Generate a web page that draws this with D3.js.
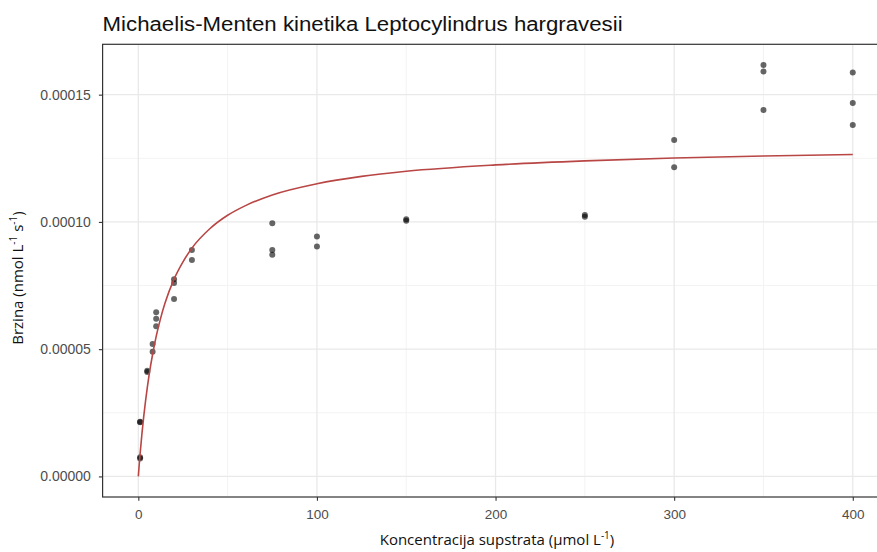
<!DOCTYPE html>
<html>
<head>
<meta charset="utf-8">
<script src="https://cdn.jsdelivr.net/npm/d3@7"></script>
<style>
  html, body { margin: 0; padding: 0; background: #fff; }
  svg { display: block; }
</style>
</head>
<body>
<svg id="chart" width="877" height="552"></svg>
<script>
// ---- data ----
const titleText = "Michaelis-Menten kinetika Leptocylindrus hargravesii";
const substrate = [1, 1, 1, 1, 5, 5, 8, 8, 10, 10, 10, 20, 20, 20, 30, 30,
                   75, 75, 75, 100, 100, 150, 150, 250, 250, 300, 300,
                   350, 350, 350, 400, 400, 400];
const rate = [0.0000215, 0.0000213, 0.0000075, 0.000007, 0.0000415, 0.000041,
              0.000052, 0.000049, 0.0000645, 0.000062, 0.000059,
              0.0000775, 0.000076, 0.0000697, 0.000089, 0.000085,
              0.0000995, 0.000089, 0.0000871, 0.0000943, 0.0000903,
              0.000101, 0.0001005, 0.0001027, 0.000102, 0.0001322, 0.0001215,
              0.0001617, 0.0001591, 0.000144, 0.0001587, 0.0001467, 0.0001381];
// fitted curve
const curveS = [0, 0.5, 1, 2, 3, 4, 5, 6, 8, 10, 12.5, 15, 20, 25, 30, 40, 50, 60,
                75, 100, 125, 150, 200, 250, 300, 350, 400];
const curveV = [0, 0.00000458, 0.00000884, 0.0000166, 0.0000234, 0.0000294,
                0.0000348, 0.0000397, 0.000048, 0.000055, 0.0000622, 0.0000682,
                0.0000775, 0.0000843, 0.0000897, 0.0000973, 0.0001026, 0.0001064,
                0.0001106, 0.000115, 0.0001179, 0.0001199, 0.0001224, 0.000124,
                0.0001251, 0.0001259, 0.0001265];
const xTicks = [0, 100, 200, 300, 400];
const xMinor = [50, 150, 250, 350];
const yTicks = [0, 0.00005, 0.0001, 0.00015];
const yMinor = [0.000025, 0.000075, 0.000125];
const yTickLabels = ["0.00000", "0.00005", "0.00010", "0.00015"];

// ---- layout ----
const panel = { left: 102.6, right: 888.5, top: 44.3, bottom: 497 };
const svg = d3.select("#chart");

const x = d3.scaleLinear().domain([-20, 420]).range([panel.left, panel.right]);
const yMax = d3.max(rate);
const yPad = yMax * 0.05;
const y = d3.scaleLinear().domain([0 - yPad, yMax + yPad]).range([panel.bottom, panel.top]);

// clip
svg.append("defs").append("clipPath").attr("id", "clip")
  .append("rect").attr("x", panel.left).attr("y", panel.top)
  .attr("width", panel.right - panel.left).attr("height", panel.bottom - panel.top);

const g = svg.append("g").attr("clip-path", "url(#clip)");
g.append("rect").attr("x", panel.left).attr("y", panel.top)
  .attr("width", panel.right - panel.left).attr("height", panel.bottom - panel.top)
  .attr("fill", "#fff");

// grid
g.selectAll(".gxm").data(xMinor).enter().append("line")
  .attr("x1", d => x(d)).attr("x2", d => x(d)).attr("y1", panel.top).attr("y2", panel.bottom)
  .attr("stroke", "#f3f3f3").attr("stroke-width", 1);
g.selectAll(".gym").data(yMinor).enter().append("line")
  .attr("y1", d => y(d)).attr("y2", d => y(d)).attr("x1", panel.left).attr("x2", panel.right)
  .attr("stroke", "#f3f3f3").attr("stroke-width", 1);
g.selectAll(".gx").data(xTicks).enter().append("line")
  .attr("x1", d => x(d)).attr("x2", d => x(d)).attr("y1", panel.top).attr("y2", panel.bottom)
  .attr("stroke", "#e9e9e9").attr("stroke-width", 1.3);
g.selectAll(".gy").data(yTicks).enter().append("line")
  .attr("y1", d => y(d)).attr("y2", d => y(d)).attr("x1", panel.left).attr("x2", panel.right)
  .attr("stroke", "#e9e9e9").attr("stroke-width", 1.3);

// points
g.selectAll(".pt").data(substrate.map((s, i) => [s, rate[i]])).enter().append("circle")
  .attr("cx", d => x(d[0])).attr("cy", d => y(d[1])).attr("r", 3)
  .attr("fill", "rgba(0,0,0,0.6)");

// fitted curve
const line = d3.line().x(d => x(d[0])).y(d => y(d[1])).curve(d3.curveMonotoneX);
g.append("path").datum(curveS.map((s, i) => [s, curveV[i]]))
  .attr("d", line).attr("fill", "none").attr("stroke", "#b84644").attr("stroke-width", 1.6);

// border
svg.append("rect").attr("x", panel.left).attr("y", panel.top)
  .attr("width", panel.right - panel.left).attr("height", panel.bottom - panel.top)
  .attr("fill", "none").attr("stroke", "#333").attr("stroke-width", 1.2);

// axes
const xAxis = d3.axisBottom(x).tickValues(xTicks).tickSize(3.7).tickPadding(9);
const gx = svg.append("g").attr("transform", `translate(0,${panel.bottom})`).call(xAxis);
gx.select(".domain").remove();
gx.selectAll(".tick line").attr("stroke", "#333").attr("stroke-width", 1.1);
gx.selectAll(".tick text").attr("fill", "#4d4d4d").attr("font-size", "13.5px")
  .attr("font-family", "'Liberation Sans', Arial, sans-serif");

const yAxis = d3.axisLeft(y).tickValues(yTicks).tickSize(3.7).tickPadding(8)
  .tickFormat((d, i) => yTickLabels[i]);
const gy = svg.append("g").attr("transform", `translate(${panel.left},0)`).call(yAxis);
gy.select(".domain").remove();
gy.selectAll(".tick line").attr("stroke", "#333").attr("stroke-width", 1.1);
gy.selectAll(".tick text").attr("fill", "#4d4d4d").attr("font-size", "14px")
  .attr("font-family", "'Liberation Sans', Arial, sans-serif");

// title
svg.append("text").attr("x", panel.left).attr("y", 31)
  .attr("font-family", "'Liberation Sans', Arial, sans-serif").attr("font-size", "19.5px")
  .attr("textLength", 520).attr("lengthAdjust", "spacingAndGlyphs")
  .attr("fill", "#111").text(titleText);

// x axis title
const xt = svg.append("text").attr("x", 497).attr("y", 545).attr("text-anchor", "middle")
  .attr("font-family", "'Open Sans', 'Noto Sans', sans-serif").attr("font-size", "15px").attr("fill", "#111");
xt.append("tspan").text("Koncentracija supstrata (µmol L");
xt.append("tspan").attr("font-size", "10px").attr("dy", "-6").text("-1");
xt.append("tspan").attr("dy", "6").text(")");

// y axis title
const yt = svg.append("text").attr("transform", "translate(23,278) rotate(-90)").attr("text-anchor", "middle")
  .attr("font-family", "'Open Sans', 'Noto Sans', sans-serif").attr("font-size", "15px").attr("fill", "#111");
yt.append("tspan").text("Brzina (nmol L");
yt.append("tspan").attr("font-size", "10px").attr("dy", "-6").text("-1");
yt.append("tspan").attr("dy", "6").text(" s");
yt.append("tspan").attr("font-size", "10px").attr("dy", "-6").text("-1");
yt.append("tspan").attr("dy", "6").text(")");
</script>
</body>
</html>
